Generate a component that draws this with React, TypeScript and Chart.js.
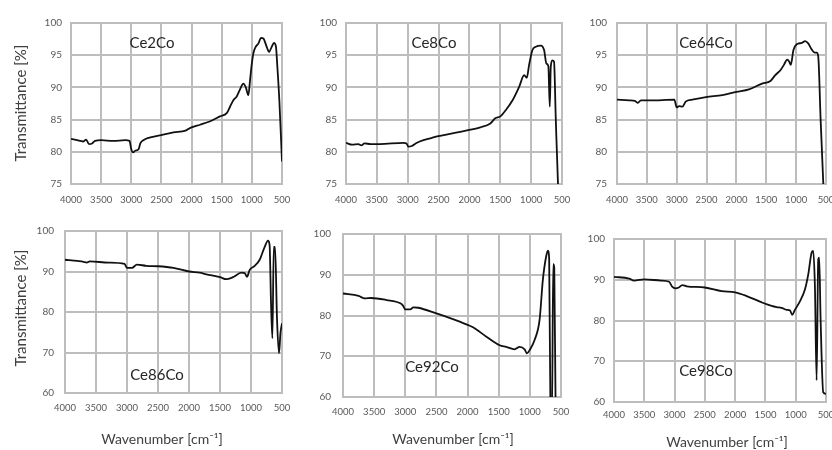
import React, { useEffect, useRef } from 'react';
import { Chart, registerables } from 'chart.js';

Chart.register(...registerables);

const FONT = 'Lato, "Open Sans", "DejaVu Sans", sans-serif';
const GRID_COLOR = '#bdbdbd';

// ---------- DATA ----------
const X_TICKS = [4000, 3500, 3000, 2500, 2000, 1500, 1000, 500];
const Y_TICKS_TOP = [75, 80, 85, 90, 95, 100];
const Y_TICKS_BOTTOM = [60, 70, 80, 90, 100];

const ce2coWavenumber = [4000, 3900, 3800, 3750, 3700, 3650, 3600, 3500, 3300, 3100, 3030, 3000, 2970, 2930, 2880, 2850, 2800, 2700, 2500, 2300, 2100, 2000, 1860, 1700, 1528, 1417, 1362, 1307, 1251, 1196, 1141, 1100, 1058, 1030, 1003, 975, 936, 892, 848, 809, 754, 715, 671, 633, 600, 577, 544, 500];
const ce2coTransmittance = [82.0, 81.8, 81.6, 81.9, 81.2, 81.3, 81.7, 81.8, 81.7, 81.8, 81.7, 80.4, 79.9, 80.2, 80.4, 81.3, 81.8, 82.2, 82.6, 83.0, 83.3, 83.8, 84.2, 84.7, 85.5, 86.0, 87.0, 88.0, 88.6, 89.7, 90.6, 90.0, 88.8, 91.1, 93.5, 95.3, 96.3, 96.8, 97.7, 97.6, 96.3, 95.5, 96.3, 96.9, 96.3, 93.2, 88.0, 78.5];

const ce8coWavenumber = [4000, 3900, 3800, 3750, 3700, 3600, 3450, 3070, 3020, 2990, 2935, 2850, 2745, 2635, 2525, 2255, 2000, 1823, 1661, 1581, 1500, 1409, 1301, 1194, 1113, 1070, 1033, 979, 925, 844, 790, 753, 721, 698, 682, 656, 629, 602, 565, 530];
const ce8coTransmittance = [81.4, 81.1, 81.2, 81.0, 81.3, 81.2, 81.2, 81.4, 81.3, 80.8, 80.9, 81.4, 81.8, 82.1, 82.4, 82.9, 83.4, 83.8, 84.4, 85.2, 85.5, 86.5, 88.0, 90.1, 91.9, 91.5, 93.5, 95.8, 96.3, 96.5, 95.8, 93.7, 93.3, 87.0, 93.2, 94.2, 94.0, 85.5, 75.0, 70.0];

const ce64coWavenumber = [4000, 3800, 3700, 3650, 3600, 3300, 3040, 3000, 2960, 2905, 2850, 2740, 2510, 2235, 2000, 1790, 1570, 1430, 1350, 1260, 1205, 1150, 1115, 1090, 1045, 990, 905, 850, 795, 740, 685, 655, 630, 590, 545, 520];
const ce64coTransmittance = [88.1, 88.0, 87.9, 87.6, 88.0, 88.0, 88.1, 86.9, 87.1, 87.0, 87.8, 88.1, 88.5, 88.8, 89.3, 89.7, 90.6, 91.0, 91.9, 92.7, 93.5, 94.3, 94.0, 93.5, 95.8, 96.7, 96.9, 97.2, 96.8, 95.9, 95.4, 95.4, 94.8, 85.0, 75.0, 70.0];

const ce86coWavenumber = [4000, 3800, 3700, 3650, 3600, 3300, 3040, 3000, 2920, 2840, 2690, 2500, 2250, 2000, 1829, 1720, 1500, 1398, 1291, 1155, 1102, 1065, 1021, 940, 860, 779, 725, 700, 677, 655, 633, 612, 580, 548, 525, 500];
const ce86coTransmittance = [92.9, 92.6, 92.4, 92.2, 92.5, 92.2, 91.9, 90.9, 90.9, 91.7, 91.4, 91.3, 90.9, 90.0, 89.7, 89.3, 88.6, 88.1, 88.6, 89.7, 89.6, 88.7, 90.4, 91.4, 92.9, 96.1, 97.6, 96.5, 82.2, 73.5, 96.1, 96.1, 78.1, 69.8, 74.8, 77.2];

const ce92coWavenumber = [4000, 3750, 3650, 3550, 3300, 3080, 3040, 3000, 2920, 2870, 2790, 2500, 2270, 2126, 2000, 1912, 1698, 1485, 1378, 1245, 1164, 1084, 1047, 1004, 924, 844, 791, 737, 711, 690, 668, 645, 625, 608, 585, 560];
const ce92coTransmittance = [85.4, 84.8, 84.2, 84.3, 83.8, 83.0, 82.5, 81.5, 81.5, 82.0, 81.9, 80.5, 79.3, 78.5, 77.7, 77.1, 74.8, 72.7, 72.3, 71.7, 72.3, 71.7, 70.7, 71.5, 74.0, 78.9, 88.8, 94.6, 95.9, 94.0, 55.0, 55.0, 92.6, 91.7, 55.0, 50.0];

const ce98coWavenumber = [4000, 3750, 3670, 3500, 3230, 3090, 3040, 2985, 2930, 2875, 2800, 2500, 2220, 2000, 1810, 1535, 1398, 1315, 1233, 1150, 1096, 1058, 1013, 931, 848, 793, 737, 711, 683, 655, 628, 612, 589, 546, 502];
const ce98coTransmittance = [90.7, 90.3, 89.8, 90.1, 89.8, 89.5, 88.3, 87.9, 88.1, 88.7, 88.4, 88.1, 87.2, 86.9, 86.0, 84.3, 83.6, 83.3, 83.1, 82.6, 82.5, 81.4, 82.6, 84.7, 87.6, 91.3, 96.7, 97.1, 88.4, 65.3, 95.0, 95.4, 80.2, 62.4, 62.0];

const sampleNames = ['Ce2Co', 'Ce8Co', 'Ce64Co', 'Ce86Co', 'Ce92Co', 'Ce98Co'];
const Y_TITLE = 'Transmittance [%]';
const X_TITLE = 'Wavenumber [cm\u207B\u00B9]';

// ---------- LAYOUT ----------
type Txt = { text: string; x: number; y: number; size: number; color: string; rotate?: boolean };
type PanelCfg = {
  wn: number[]; t: number[]; yTicks: number[];
  l: number; t0: number; r: number; b: number;
  xPad: number; yPad: number; texts: Txt[];
};

const PADL = 75, PADT = 25, PADR = 25, PADB = 60, YW = 45, XH = 30;

const panels: PanelCfg[] = [
  { wn: ce2coWavenumber, t: ce2coTransmittance, yTicks: Y_TICKS_TOP, l: 71, t0: 23, r: 282, b: 184, xPad: 10, yPad: 9,
    texts: [
      { text: sampleNames[0], x: 152, y: 43, size: 15, color: '#262626' },
      { text: Y_TITLE, x: 21, y: 103, size: 15, color: '#404040', rotate: true },
    ] },
  { wn: ce8coWavenumber, t: ce8coTransmittance, yTicks: Y_TICKS_TOP, l: 346, t0: 23, r: 562, b: 184, xPad: 10, yPad: 9,
    texts: [{ text: sampleNames[1], x: 434, y: 43, size: 15, color: '#262626' }] },
  { wn: ce64coWavenumber, t: ce64coTransmittance, yTicks: Y_TICKS_TOP, l: 617, t0: 23, r: 826, b: 184, xPad: 10, yPad: 10,
    texts: [{ text: sampleNames[2], x: 706, y: 43, size: 15, color: '#262626' }] },
  { wn: ce86coWavenumber, t: ce86coTransmittance, yTicks: Y_TICKS_BOTTOM, l: 65, t0: 231, r: 282, b: 393, xPad: 9, yPad: 11,
    texts: [
      { text: sampleNames[3], x: 157, y: 375, size: 15, color: '#262626' },
      { text: Y_TITLE, x: 21, y: 308, size: 15, color: '#404040', rotate: true },
      { text: X_TITLE, x: 162, y: 439, size: 14, color: '#404040' },
    ] },
  { wn: ce92coWavenumber, t: ce92coTransmittance, yTicks: Y_TICKS_BOTTOM, l: 343, t0: 234, r: 561, b: 397, xPad: 9, yPad: 12,
    texts: [
      { text: sampleNames[4], x: 432, y: 367, size: 15, color: '#262626' },
      { text: X_TITLE, x: 453, y: 439, size: 14, color: '#404040' },
    ] },
  { wn: ce98coWavenumber, t: ce98coTransmittance, yTicks: Y_TICKS_BOTTOM, l: 614, t0: 239, r: 826, b: 402, xPad: 7, yPad: 9,
    texts: [
      { text: sampleNames[5], x: 706, y: 371, size: 15, color: '#262626' },
      { text: X_TITLE, x: 727, y: 442, size: 14, color: '#404040' },
    ] },
];

function Panel({ cfg }: { cfg: PanelCfg }) {
  const ref = useRef<HTMLCanvasElement>(null);
  const cl = cfg.l - PADL;
  const ct = cfg.t0 - PADT;
  const cw = cfg.r - cfg.l + PADL + PADR;
  const ch = cfg.b - cfg.t0 + PADT + PADB;

  useEffect(() => {
    if (!ref.current) return;
    const pts = cfg.wn.map((w, i) => ({ x: w, y: cfg.t[i] })).sort((a, b) => a.x - b.x);
    const yMin = cfg.yTicks[0];
    const yMax = cfg.yTicks[cfg.yTicks.length - 1];

    const gridPlugin = {
      id: 'panelGrid',
      beforeDatasetsDraw(chart: any) {
        const { ctx, chartArea: a, scales } = chart;
        ctx.save();
        ctx.strokeStyle = GRID_COLOR;
        ctx.lineWidth = 2;
        for (const v of X_TICKS) {
          const px = Math.round(scales.x.getPixelForValue(v));
          ctx.beginPath();
          ctx.moveTo(px, a.top - 1);
          ctx.lineTo(px, a.bottom + 1);
          ctx.stroke();
        }
        for (const v of cfg.yTicks) {
          const py = Math.round(scales.y.getPixelForValue(v));
          ctx.beginPath();
          ctx.moveTo(a.left - 1, py);
          ctx.lineTo(a.right + 1, py);
          ctx.stroke();
        }
        ctx.restore();
      },
    };

    const textPlugin = {
      id: 'panelTexts',
      afterDraw(chart: any) {
        const ctx = chart.ctx;
        for (const t of cfg.texts) {
          ctx.save();
          ctx.font = `${t.size}px ${FONT}`;
          ctx.fillStyle = t.color;
          ctx.textAlign = 'center';
          ctx.textBaseline = 'middle';
          ctx.translate(t.x - cl, t.y - ct);
          if (t.rotate) ctx.rotate(-Math.PI / 2);
          ctx.fillText(t.text, 0, 0);
          ctx.restore();
        }
      },
    };

    const chart = new Chart(ref.current, {
      type: 'line',
      data: {
        datasets: [{
          data: pts,
          borderColor: '#111111',
          borderWidth: 1.8,
          pointRadius: 0,
          fill: false,
          cubicInterpolationMode: 'monotone',
        }],
      },
      options: {
        responsive: false,
        animation: false,
        devicePixelRatio: 1,
        layout: { padding: { left: PADL - YW, top: PADT, right: PADR, bottom: PADB - XH } },
        plugins: { legend: { display: false }, tooltip: { enabled: false }, title: { display: false } },
        scales: {
          x: {
            type: 'linear',
            reverse: true,
            min: X_TICKS[X_TICKS.length - 1],
            max: X_TICKS[0],
            afterBuildTicks: (s: any) => { s.ticks = X_TICKS.map((v) => ({ value: v })); },
            afterFit: (s: any) => { s.height = XH; s.paddingLeft = 0; s.paddingRight = 0; },
            ticks: {
              autoSkip: false, maxRotation: 0, minRotation: 0, padding: cfg.xPad, color: '#595959',
              font: { size: 9.5, family: FONT },
              callback: (v: any) => String(v),
            },
            grid: { display: true, drawOnChartArea: true, drawTicks: false, color: GRID_COLOR, lineWidth: 2 },
            border: { display: true, color: GRID_COLOR, width: 2 },
          },
          y: {
            type: 'linear',
            min: yMin,
            max: yMax,
            afterBuildTicks: (s: any) => { s.ticks = cfg.yTicks.map((v) => ({ value: v })); },
            afterFit: (s: any) => { s.width = YW; s.paddingTop = 0; s.paddingBottom = 0; },
            ticks: {
              autoSkip: false, padding: cfg.yPad, color: '#595959',
              font: { size: 10, family: FONT },
              callback: (v: any) => String(v),
            },
            grid: { display: true, drawOnChartArea: true, drawTicks: false, color: GRID_COLOR, lineWidth: 2 },
            border: { display: true, color: GRID_COLOR, width: 2 },
          },
        },
      },
      plugins: [gridPlugin, textPlugin],
    } as any);
    return () => chart.destroy();
  }, []);

  return (
    <canvas
      ref={ref}
      width={cw}
      height={ch}
      style={{ position: 'absolute', left: cl, top: ct, width: cw, height: ch }}
    />
  );
}

export default function App() {
  return (
    <div style={{ position: 'fixed', left: 0, top: 0, width: 832, height: 450, overflow: 'hidden', background: '#ffffff', fontFamily: FONT }}>
      {panels.map((p, i) => <Panel key={i} cfg={p} />)}
    </div>
  );
}
